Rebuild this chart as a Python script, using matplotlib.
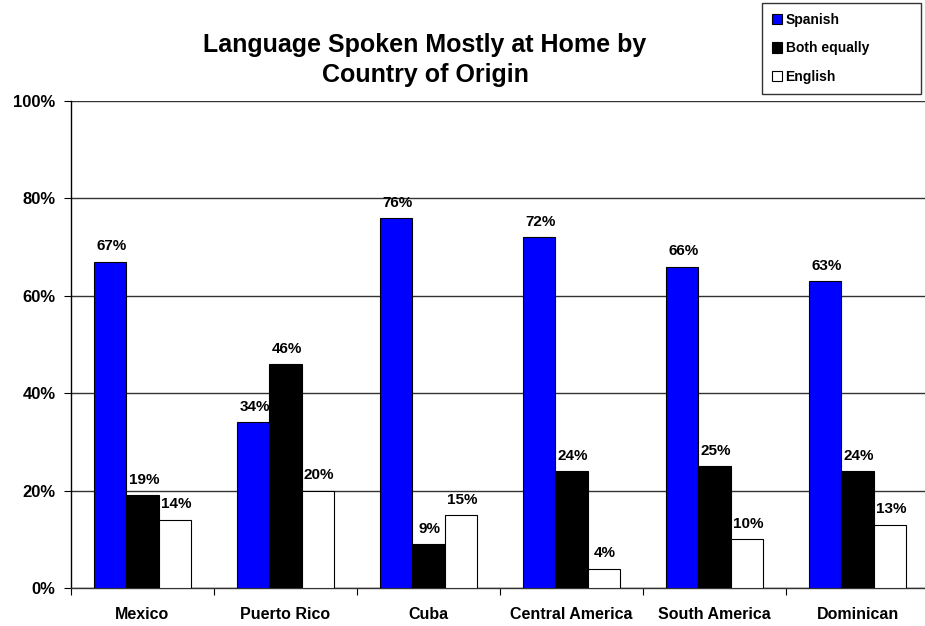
import matplotlib.pyplot as plt
import numpy as np

# survey results, percent of respondents
countries = ["Mexico", "Puerto Rico", "Cuba", "Central America", "South America", "Dominican"]
spanish = [67, 34, 76, 72, 66, 63]
both = [19, 46, 9, 24, 25, 24]
english = [14, 20, 15, 4, 10, 13]
series_names = ["Spanish", "Both equally", "English"]

plt.rcParams['font.family'] = ['Liberation Sans', 'DejaVu Sans']
plt.rcParams['font.weight'] = 'bold'

fig = plt.figure(figsize=(9.25, 6.26), dpi=100)
# plot area runs a little past the right edge of the figure
ax = fig.add_axes([71 / 925, 38 / 626, 858 / 925, 487 / 626])

x = np.arange(len(countries))
w = 0.224
colors = ["#0000ff", "#000000", "#ffffff"]
for i, (vals, name) in enumerate(zip([spanish, both, english], series_names)):
    bars = ax.bar(x + (i - 1) * w, vals, w, color=colors[i], edgecolor="black",
                  linewidth=0.8, label=name, zorder=3)
    for b, v in zip(bars, vals):
        ax.annotate(f"{v}%", (b.get_x() + b.get_width() / 2, v), xytext=(1, 6),
                    textcoords="offset points", ha="center", va="bottom",
                    fontsize=11, fontweight="bold")

ax.set_xlim(-0.5, len(countries) - 0.5)
ax.set_ylim(0, 100)
ax.set_yticks(range(0, 101, 20))
ax.set_yticklabels([f"{t}%" for t in range(0, 101, 20)], fontsize=12, fontweight="bold")
ax.yaxis.grid(True, color="#333333", linewidth=1.0, zorder=0)

ax.set_xticks(x)
ax.set_xticklabels(countries, fontsize=11.5, fontweight="bold")
ax.tick_params(axis="x", length=0, pad=14)
ax.set_xticks(np.arange(len(countries) + 1) - 0.5, minor=True)
ax.tick_params(axis="x", which="minor", length=5, direction="out", width=0.8)
ax.tick_params(axis="y", length=5, direction="out", width=0.8, pad=6)

for s in ["top", "right"]:
    ax.spines[s].set_visible(False)
ax.spines["left"].set_linewidth(1.0)
ax.spines["bottom"].set_linewidth(1.0)
ax.spines["bottom"].set_color("#333333")

fig.text(425 / 925, 1 - 60 / 626, "Language Spoken Mostly at Home by\nCountry of Origin",
         ha="center", va="center", fontsize=18, fontweight="bold", linespacing=1.35)

leg = fig.legend(loc="upper left", bbox_to_anchor=(762 / 925, 1 - 3 / 626, 159 / 925, 0),
                 mode="expand", fontsize=10, frameon=True, fancybox=False,
                 handlelength=0.75, handleheight=0.75, handletextpad=0.25,
                 labelspacing=1.05, borderpad=0.7, borderaxespad=0)
leg.get_frame().set_edgecolor("black")
leg.get_frame().set_linewidth(1.0)
for t in leg.get_texts():
    t.set_fontweight("bold")

fig.savefig("out.png", dpi=100)
